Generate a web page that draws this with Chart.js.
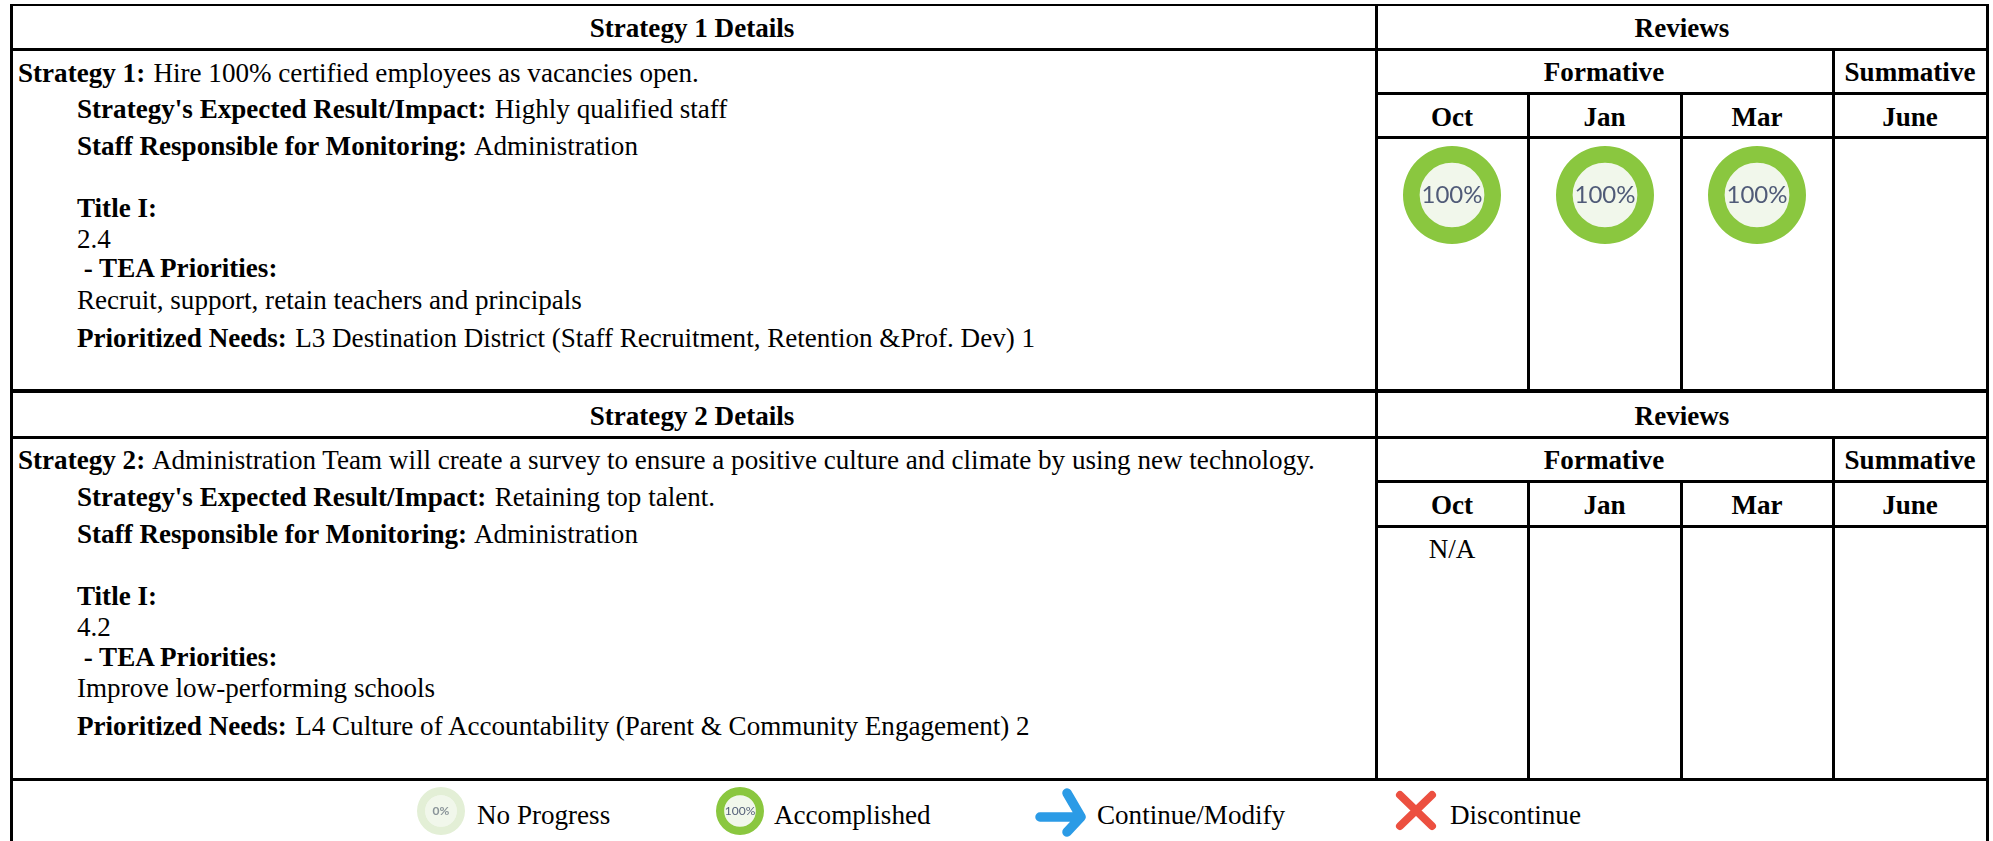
<!DOCTYPE html>
<html><head><meta charset="utf-8">
<script src="https://cdn.jsdelivr.net/npm/chart.js@4"></script>
<style>
html,body{margin:0;padding:0;background:#fff;width:1993px;height:841px;overflow:hidden}
#page{position:relative;width:1993px;height:841px;font-family:"Liberation Serif",serif;color:#000;font-size:27.1px;background:#fff;filter:blur(0.4px)}
.t{position:absolute;white-space:pre;line-height:32px;height:32px}
.t span{margin-left:1.5px}
.c{transform:translateX(-50%)}
.l{position:absolute;background:#000}
canvas{position:absolute}
svg{position:absolute;left:0;top:0}
</style></head><body><div id="page"></div>
<script>
const months=["Oct","Jan","Mar","June"];
const strategy1Progress=[100,100,100,null];
const legendProgress=[0,100];
const legendLabels=["No Progress","Accomplished","Continue/Modify","Discontinue"];
const strategy1Lines=[
 [18,72.5,"Strategy 1:"," Hire 100% certified employees as vacancies open."],
 [77,109,"Strategy's Expected Result/Impact:"," Highly qualified staff"],
 [77,146,"Staff Responsible for Monitoring:"," Administration"],
 [77,208,"Title I:",""],
 [77,239,"","2.4"],
 [77,268," - TEA Priorities:",""],
 [77,300,"","Recruit, support, retain teachers and principals"],
 [77,338,"Prioritized Needs:"," L3 Destination District (Staff Recruitment, Retention &Prof. Dev) 1"]];
const strategy2Lines=[
 [18,460,"Strategy 2:"," Administration Team will create a survey to ensure a positive culture and climate by using new technology."],
 [77,497,"Strategy's Expected Result/Impact:"," Retaining top talent."],
 [77,534,"Staff Responsible for Monitoring:"," Administration"],
 [77,596,"Title I:",""],
 [77,627,"","4.2"],
 [77,657," - TEA Priorities:",""],
 [77,688,"","Improve low-performing schools"],
 [77,726,"Prioritized Needs:"," L4 Culture of Accountability (Parent & Community Engagement) 2"]];

const page=document.getElementById('page');
function line(x,y,w,h){const d=document.createElement('div');d.className='l';
 d.style.cssText=`left:${x}px;top:${y}px;width:${w}px;height:${h}px`;page.appendChild(d);}
function text(x,y,bold,norm,center){const d=document.createElement('div');d.className='t'+(center?' c':'');
 d.style.left=x+'px';d.style.top=(y-16)+'px';
 if(bold){const b=document.createElement('b');b.textContent=bold;d.appendChild(b);}
 if(norm){const s=document.createElement('span');s.textContent=norm;if(!bold)s.style.marginLeft='0';d.appendChild(s);}
 page.appendChild(d);}
// grid
const R=1989, L=10;
line(L,4,R-L,2);
line(L,48,R-L,3);
line(L,389,R-L,4);
line(L,436,R-L,3);
[92,136,480,525].forEach(y=>line(1376,y,R-1376,3));
line(L,778,R-L,3);
line(L,4,3,837);
line(1375,4,3,775);
line(R-3,4,3,837);
[48,436].forEach(y=>line(1832,y,3,y==48?343:344));
[92,480].forEach(y=>{line(1527,y,3,y==92?299:300);line(1680,y,3,y==92?299:300);});
// headers
const monthX=[1452,1604.5,1757,1910];
function head(off){
 text(692,off+28,"Strategy "+(off?2:1)+" Details","",true);
 text(1682,off+28,"Reviews","",true);
 text(1604,off+72,"Formative","",true);
 text(1910,off+72,"Summative","",true);
 months.forEach((m,i)=>text(monthX[i],off+117,m,"",true));
}
head(0);head(388);
strategy1Lines.forEach(r=>text(r[0],r[1],r[2],r[3]));
strategy2Lines.forEach(r=>text(r[0],r[1],r[2],r[3]));
text(1452,549,"","N/A",true);
// legend text
text(477,815,"",legendLabels[0]);
text(774,815,"",legendLabels[1]);
text(1097,815,"",legendLabels[2]);
text(1450,815,"",legendLabels[3]);
// icons
page.insertAdjacentHTML('beforeend',`<svg width="1993" height="841">
<path d="M1040 817H1080M1067 793L1081 817L1067 832" fill="none" stroke="#2B9BE6" stroke-width="9.5" stroke-linecap="round" stroke-linejoin="round"/>
<path d="M1400 795L1432 826M1432 795L1400 826" fill="none" stroke="#EC5040" stroke-width="8" stroke-linecap="round"/></svg>`);
// doughnuts
const centerPlugin={id:'centerFill',
 beforeDatasetsDraw(c,a,o){const e=c.getDatasetMeta(0).data[0];const x=c.ctx;x.save();
  x.beginPath();x.arc(e.x,e.y,e.innerRadius,0,Math.PI*2);x.fillStyle=o.fill;x.fill();x.restore();},
 afterDatasetsDraw(c,a,o){const e=c.getDatasetMeta(0).data[0];const x=c.ctx;x.save();
  x.font=o.font;x.fillStyle=o.color;x.textAlign='center';x.textBaseline='middle';
  x.fillText(o.label,e.x,e.y+o.dy);x.restore();}};
function donut(cx,cy,d,val,font,col,dy){
 const cv=document.createElement('canvas');const s=d+4;
 cv.width=s;cv.height=s;cv.style.cssText=`left:${cx-s/2}px;top:${cy-s/2}px;width:${s}px;height:${s}px`;
 page.appendChild(cv);
 new Chart(cv,{type:'doughnut',plugins:[centerPlugin],
  data:{labels:['Done','Remaining'],datasets:[{data:[val,100-val],
   backgroundColor:['#8AC73F','#E3EFD6'],borderWidth:0}]},
  options:{responsive:false,animation:false,cutout:'66%',layout:{padding:2},
   plugins:{legend:{display:false},tooltip:{enabled:false},
    centerFill:{fill:'#F1F7EB',label:val+'%',font,color:col,dy}}}});
}
const cellX=[1452,1604.5,1757];
strategy1Progress.forEach((v,i)=>{if(v!==null)donut(cellX[i],195,98,v,'24px Lato','#505B78',0);});
donut(441,811,48,legendProgress[0],'bold 12px Lato','#8A9499',0);
donut(740,811,48,legendProgress[1],'12px Lato','#55607A',0);
</script></body></html>
